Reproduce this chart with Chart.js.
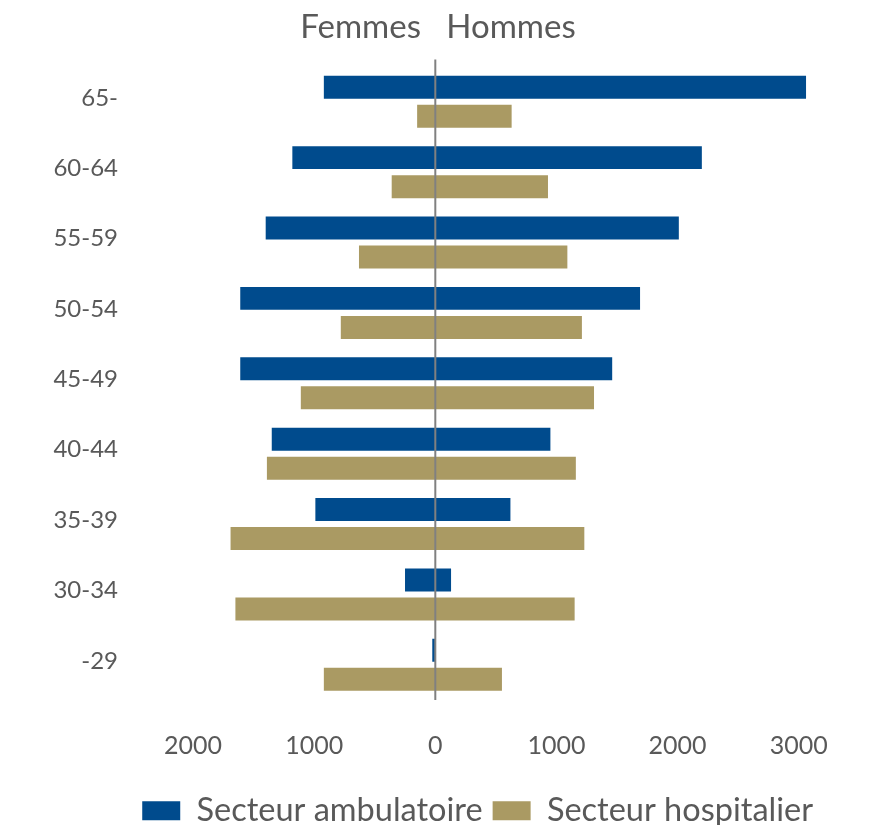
<!DOCTYPE html>
<html>
<head>
<meta charset="utf-8">
<script src="https://cdn.jsdelivr.net/npm/chart.js@4"></script>
<style>
  html, body { margin: 0; padding: 0; background: #ffffff; }
  #wrap { width: 872px; height: 825px; }
</style>
</head>
<body>
<div id="wrap"><canvas id="c" width="872" height="825"></canvas></div>
<script>
const categories = ['65-', '60-64', '55-59', '50-54', '45-49', '40-44', '35-39', '30-34', '-29'];
const ambulatoireFemmes = [920, 1180, 1400, 1610, 1610, 1350, 990, 250, 25];
const ambulatoireHommes = [3060, 2200, 2010, 1690, 1460, 950, 620, 130, 0];
const hospitalierFemmes = [150, 360, 630, 780, 1110, 1390, 1690, 1650, 920];
const hospitalierHommes = [630, 930, 1090, 1210, 1310, 1160, 1230, 1150, 550];
const xTicks = [-2000, -1000, 0, 1000, 2000, 3000];
const seriesNames = ['Secteur ambulatoire', 'Secteur hospitalier'];
const titleText = 'Femmes   Hommes';

const BLUE = '#004B8D';
const TAN = '#AA9A63';
const TEXT = '#595959';
const FONT = 'Lato, "Liberation Sans", sans-serif';

const zeroLine = {
  id: 'zeroLine',
  afterDatasetsDraw(chart) {
    const {ctx, chartArea, scales} = chart;
    const x = scales.x.getPixelForValue(0);
    ctx.save();
    ctx.strokeStyle = '#808080';
    ctx.lineWidth = 2;
    ctx.beginPath();
    ctx.moveTo(x, chartArea.top - 7);
    ctx.lineTo(x, chartArea.bottom);
    ctx.stroke();
    ctx.restore();
  }
};

new Chart(document.getElementById('c'), {
  type: 'bar',
  data: {
    labels: categories,
    datasets: [
      { label: seriesNames[0], data: ambulatoireFemmes.map(v => -v), backgroundColor: BLUE, stack: 'amb' },
      { label: seriesNames[0] + ' H', data: ambulatoireHommes, backgroundColor: BLUE, stack: 'amb' },
      { label: seriesNames[1], data: hospitalierFemmes.map(v => -v), backgroundColor: TAN, stack: 'hosp' },
      { label: seriesNames[1] + ' H', data: hospitalierHommes, backgroundColor: TAN, stack: 'hosp' }
    ]
  },
  options: {
    indexAxis: 'y',
    responsive: false,
    animation: false,
    devicePixelRatio: 1,
    categoryPercentage: 0.825,
    barPercentage: 0.79,
    layout: { padding: { left: 53, right: 49, top: 0, bottom: -12 } },
    scales: {
      x: {
        stacked: true,
        min: -2000,
        max: 3200,
        afterBuildTicks(scale) { scale.ticks = xTicks.map(v => ({ value: v })); },
        grid: { display: false, drawTicks: false },
        border: { display: false },
        ticks: {
          color: TEXT,
          font: { family: FONT, size: 25 },
          padding: 31,
          maxRotation: 0,
          callback: v => String(Math.abs(v))
        },
        afterFit(scale) { scale.height = 84.5; }
      },
      y: {
        stacked: true,
        grid: { display: true, drawOnChartArea: false, drawTicks: true, tickLength: 71, color: 'rgba(0,0,0,0)' },
        border: { display: false },
        ticks: {
          color: TEXT,
          font: { family: FONT, size: 24 },
          padding: 4,
          labelOffset: -4
        },
        afterFit(scale) { scale.width = 140; }
      }
    },
    plugins: {
      title: {
        display: true,
        text: titleText,
        color: TEXT,
        font: { family: FONT, size: 33, weight: 'normal' },
        padding: { top: 8, bottom: 19 }
      },
      legend: {
        position: 'bottom',
        align: 'end',
        labels: {
          color: TEXT,
          font: { family: FONT, size: 32.5 },
          boxWidth: 38,
          boxHeight: 19,
          padding: 10,
          filter: item => item.datasetIndex === 0 || item.datasetIndex === 2
        }
      },
      tooltip: { enabled: false }
    }
  },
  plugins: [zeroLine]
});
</script>
</body>
</html>
